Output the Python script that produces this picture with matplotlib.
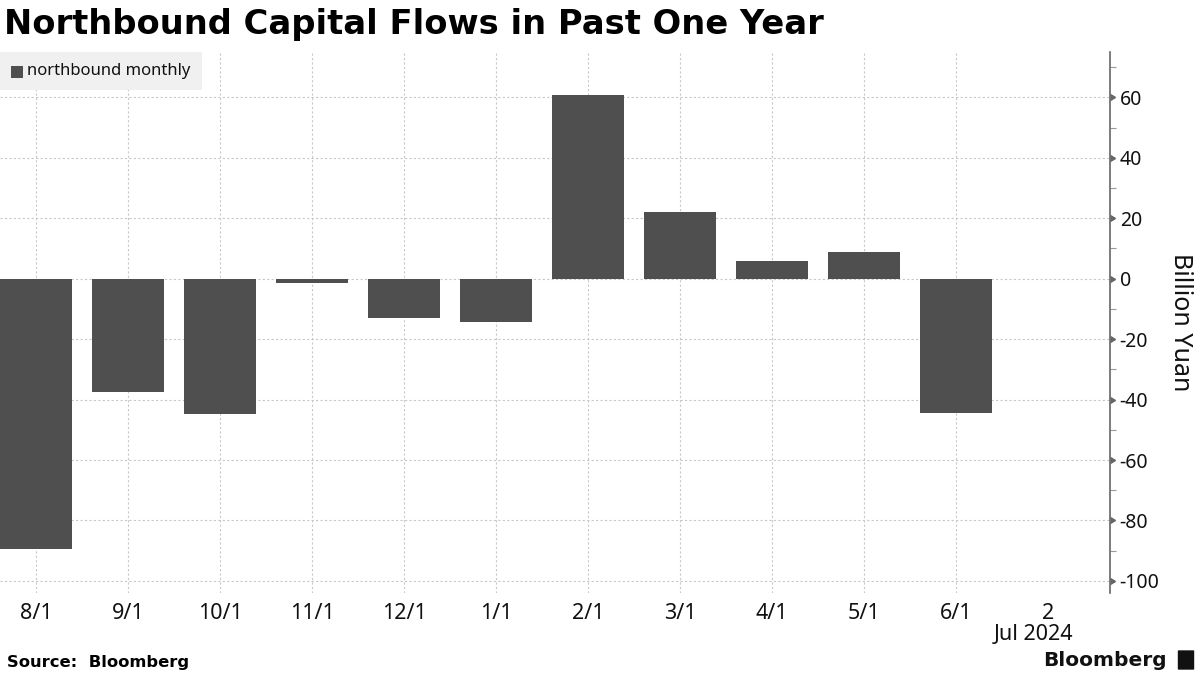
import matplotlib
matplotlib.use("Agg")
import matplotlib.pyplot as plt
from matplotlib.patches import Rectangle, FancyBboxPatch
from matplotlib.lines import CARETRIGHTBASE
from matplotlib.ticker import MultipleLocator
from matplotlib.transforms import blended_transform_factory

categories = ["8/1", "9/1", "10/1", "11/1", "12/1", "1/1", "2/1", "3/1", "4/1", "5/1", "6/1"]
values = [-89.6, -37.4, -44.7, -1.5, -12.9, -14.5, 60.8, 22.1, 5.9, 8.9, -44.3]
tick_labels = categories + ["2"]
year_label = "Jul 2024"
series_name = "northbound monthly"

BAR = "#4f4f4f"
GRID = "#c8c8c8"
SPINE = "#666666"

plt.rcParams["font.family"] = ["Noto Sans", "DejaVu Sans"]
plt.rcParams["axes.unicode_minus"] = False

fig = plt.figure(figsize=(12, 6.75), dpi=100)
ax = fig.add_axes([0.0, 0.1215, 0.925, 0.8015])

x = list(range(len(categories)))
ax.bar(x, values, width=0.78, color=BAR, zorder=3)

ax.set_xlim(-0.39, 11.67)
ax.set_ylim(-104, 75)

ax.set_xticks(list(range(len(tick_labels))))
ax.set_xticklabels(tick_labels, fontsize=15.5, color="#111111")
ax.tick_params(axis="x", length=0, pad=7)

# second-line date label (month/year) under the last tick
trans = blended_transform_factory(ax.transData, fig.transFigure)
ax.text(10.84, 1 - 634 / 675, year_label, transform=trans, fontsize=15.5,
        ha="center", va="center", color="#111111")

# vertical gridlines only at monthly positions
for xi in x:
    ax.axvline(xi, color=GRID, lw=0.8, ls=(0, (2, 2)), zorder=1)

ax.yaxis.tick_right()
ax.yaxis.set_label_position("right")
ax.yaxis.set_major_locator(MultipleLocator(20))
ax.yaxis.set_minor_locator(MultipleLocator(10))
ax.tick_params(axis="y", which="major", length=6, width=1, color=SPINE,
               labelsize=14, labelcolor="#111111", pad=1)
ax.tick_params(axis="y", which="minor", length=4, width=0.8, color="#999999")
for t in ax.yaxis.get_major_ticks():
    t.tick2line.set_marker(CARETRIGHTBASE)
    t.tick2line.set_markersize(5)
    t.tick2line.set_color(SPINE)
ax.grid(axis="y", which="major", color=GRID, lw=0.8, ls=(0, (2, 2)), zorder=1)
ax.set_ylabel("Billion Yuan", fontsize=18, rotation=-90, labelpad=24, color="#111111")

for s in ["top", "left", "bottom"]:
    ax.spines[s].set_visible(False)
ax.spines["right"].set_color(SPINE)
ax.spines["right"].set_linewidth(1.2)

# title
fig.text(0.003, 0.963, "Northbound Capital Flows in Past One Year", fontsize=24.3,
         fontweight="bold", family="DejaVu Sans", va="center", ha="left")

# legend box
fig.patches.append(Rectangle((0.0, 1 - 90 / 675), 202 / 1200, 38 / 675,
                             transform=fig.transFigure, facecolor="#f0f0f0",
                             edgecolor="none", zorder=5))
fig.patches.append(Rectangle((11 / 1200, 1 - 78 / 675), 12 / 1200, 12 / 675,
                             transform=fig.transFigure, facecolor=BAR,
                             edgecolor="none", zorder=6))
fig.text(27 / 1200, 1 - 71 / 675, series_name, fontsize=12, va="center",
         ha="left", color="#111111", zorder=7)

# footer
fig.text(0.006, 1 - 662 / 675, "Source:  Bloomberg", fontsize=11.8, fontweight="bold",
         family="DejaVu Sans", va="center", ha="left")
fig.text(1167 / 1200, 1 - 661 / 675, "Bloomberg", fontsize=14.5, fontweight="bold",
         family="DejaVu Sans", va="center", ha="right", color="#111111")
fig.patches.append(FancyBboxPatch((1179 / 1200, 1 - 669 / 675), 14 / 1200, 18 / 675,
                                  boxstyle="round,pad=0.001", transform=fig.transFigure,
                                  facecolor="#111111", edgecolor="none"))

fig.savefig("out.png", dpi=100)
